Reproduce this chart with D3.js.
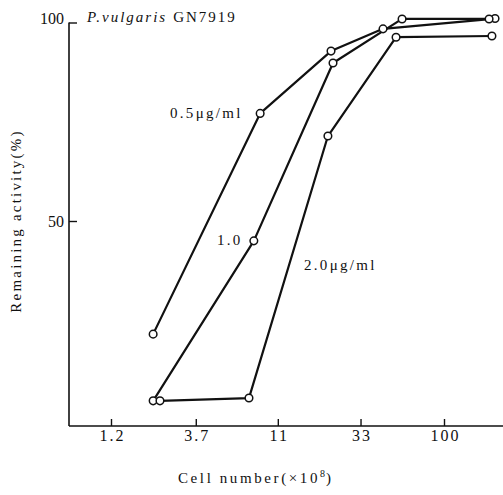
<!DOCTYPE html>
<html>
<head>
<meta charset="utf-8">
<script src="https://cdn.jsdelivr.net/npm/d3@7/dist/d3.min.js"></script>
<style>
  html, body { margin: 0; padding: 0; background: #fff; }
  svg { display: block; }
  text { font-family: "Liberation Serif", "DejaVu Serif", serif; fill: #111; }
</style>
</head>
<body>
<svg id="chart" width="503" height="495"></svg>
<script>
// ---- data ----
const xTickValues = [1.2, 3.7, 11, 33, 100];
const yTickValues = [50, 100];

const seriesNames = ["0.5μg/ml", "1.0", "2.0μg/ml"];
const cells05 = [2.1, 8.7, 22.3, 44.5, 197];
const act05   = [21.5, 77.1, 92.8, 98.4, 101];
const cells10 = [2.1, 8.0, 22.9, 57.3, 182];
const act10   = [4.7, 45.0, 89.8, 100.9, 100.9];
const cells20 = [2.3, 7.5, 21.4, 52.9, 189];
const act20   = [4.7, 5.4, 71.4, 96.3, 96.6];

const title = "GN7919";
const titleItalic = "P.vulgaris";
const xTitle = "Cell number(×10";
const yTitle = "Remaining activity(%)";

// ---- layout ----
const svg = d3.select("#chart");
const axisX0 = 69, axisX1 = 503, axisY = 426, axisTop = 22.5;

const x = d3.scaleLog().domain([1.2, 100]).range([111, 444]);
const y = d3.scaleLinear().domain([0, 100]).range([419.5, 22.5]);

// axes lines
svg.append("line").attr("x1", axisX0).attr("x2", axisX0).attr("y1", axisTop).attr("y2", axisY)
  .attr("stroke", "#111").attr("stroke-width", 1.6);
svg.append("line").attr("x1", axisX0).attr("x2", axisX1).attr("y1", axisY).attr("y2", axisY)
  .attr("stroke", "#111").attr("stroke-width", 1.6);

// x axis ticks
const gx = svg.append("g").attr("transform", `translate(0,${axisY})`)
  .call(d3.axisBottom(x).tickValues(xTickValues).tickSize(-7).tickPadding(4).tickFormat(d => d));
gx.select(".domain").remove();
gx.selectAll(".tick line").attr("stroke", "#111").attr("stroke-width", 1.4);
gx.selectAll(".tick text").attr("font-size", 16).attr("fill", "#111")
  .style("font-family", "Liberation Serif, serif").attr("letter-spacing", 2).attr("dx", 1);

// y axis ticks
const gy = svg.append("g").attr("transform", `translate(${axisX0},0)`)
  .call(d3.axisLeft(y).tickValues(yTickValues).tickSize(-8).tickPadding(5));
gy.select(".domain").remove();
gy.selectAll(".tick line").attr("stroke", "#111").attr("stroke-width", 1.4);
gy.selectAll(".tick text").attr("font-size", 16).attr("fill", "#111")
  .style("font-family", "Liberation Serif, serif")
  .attr("dy", d => d === 100 ? "0.05em" : "0.32em");

// lines + points
const series = [
  { name: seriesNames[0], xs: cells05, ys: act05 },
  { name: seriesNames[1], xs: cells10, ys: act10 },
  { name: seriesNames[2], xs: cells20, ys: act20 }
];
const line = d3.line().x(d => x(d[0])).y(d => y(d[1]));
series.forEach(s => {
  const pts = s.xs.map((v, i) => [v, s.ys[i]]);
  svg.append("path").datum(pts).attr("d", line)
    .attr("fill", "none").attr("stroke", "#111").attr("stroke-width", 2.2)
    .attr("stroke-linejoin", "round");
});
series.forEach(s => {
  const pts = s.xs.map((v, i) => [v, s.ys[i]]);
  svg.selectAll(null).data(pts).enter().append("circle")
    .attr("cx", d => x(d[0])).attr("cy", d => y(d[1])).attr("r", 3.8)
    .attr("fill", "#fff").attr("stroke", "#111").attr("stroke-width", 1.5);
});

// series labels
const labelPos = [[170, 118], [217, 245], [304, 270]];
seriesNames.forEach((n, i) => {
  svg.append("text").attr("x", labelPos[i][0]).attr("y", labelPos[i][1])
    .attr("font-size", 15).attr("letter-spacing", 2.3).text(n);
});

// title
const t = svg.append("text").attr("x", 87).attr("y", 22).attr("font-size", 15).attr("letter-spacing", 2);
t.append("tspan").attr("font-style", "italic").text(titleItalic);
t.append("tspan").attr("dx", 6).text(title);

// x title
const xt = svg.append("text").attr("x", 178).attr("y", 483).attr("font-size", 15).attr("letter-spacing", 2.6);
xt.append("tspan").text(xTitle);
xt.append("tspan").attr("dy", -6).attr("font-size", 10).attr("letter-spacing", 1).text("8");
xt.append("tspan").attr("dy", 6).text(")");

// y title
svg.append("text").attr("transform", "translate(21,221) rotate(-90)")
  .attr("text-anchor", "middle").attr("font-size", 15).attr("letter-spacing", 2.2).text(yTitle);
</script>
</body>
</html>
